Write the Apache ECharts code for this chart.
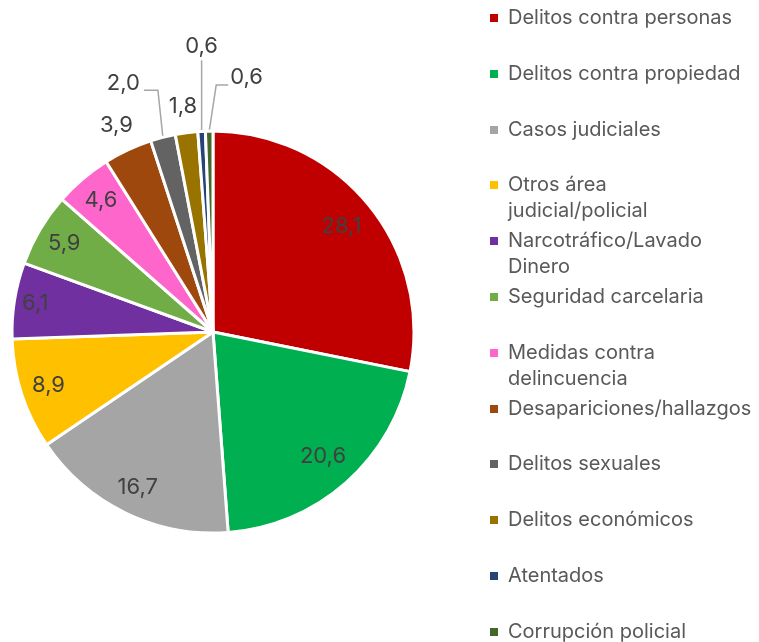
<!DOCTYPE html>
<html><head><meta charset="utf-8">
<script src="https://cdn.jsdelivr.net/npm/echarts@6/dist/echarts.min.js"></script>
<style>html,body{margin:0;padding:0;background:#fff}#c{width:759px;height:642px}</style>
</head><body><div id="c"></div>
<script>
const categories = ['Delitos contra personas','Delitos contra propiedad','Casos judiciales','Otros área judicial/policial','Narcotráfico/Lavado Dinero','Seguridad carcelaria','Medidas contra delincuencia','Desapariciones/hallazgos','Delitos sexuales','Delitos económicos','Atentados','Corrupción policial'];
const legendLabels = ['Delitos contra personas','Delitos contra propiedad','Casos judiciales','Otros área\njudicial/policial','Narcotráfico/Lavado\nDinero','Seguridad carcelaria','Medidas contra\ndelincuencia','Desapariciones/hallazgos','Delitos sexuales','Delitos económicos','Atentados','Corrupción policial'];
const values = [28.1, 20.6, 16.7, 8.9, 6.1, 5.9, 4.6, 3.9, 2.0, 1.8, 0.6, 0.6];
const colors = ['#C00000','#00B050','#A5A5A5','#FFC000','#7030A0','#70AD47','#FF66CC','#9E480E','#636363','#997300','#264478','#43682B'];
const leaderLabelIdx = [8,10,11];

const FONT = 'Inter';
const fmt = p => p.value.toFixed(1).replace('.', ',');
const labelText = {fontFamily: FONT, fontSize: 22, color: '#404040'};
const chart = echarts.init(document.getElementById('c'));

const legends = categories.map((name, i) => {
  const two = legendLabels[i].indexOf('\n') >= 0;
  const yc = 18 + 55.8 * i;
  return {
    orient: 'vertical', left: 490, top: Math.round(yc - 13), padding: 0,
    data: [{name: name, icon: two ? 'path://M0,0h8v8h-8z M0,34L0,34' : 'rect'}],
    itemWidth: 8, itemHeight: two ? 34 : 8,
    itemStyle: {borderWidth: 0},
    formatter: () => legendLabels[i], selectedMode: false,
    textStyle: {fontFamily: FONT, fontSize: 20, color: '#595959', lineHeight: 26, padding: [0, 0, 0, 5]}
  };
});

const transparent = {color: 'rgba(0,0,0,0)', borderWidth: 0};
// label rings: inner label sits at the middle of each transparent ring
const rings = [
  {radius: [126, 200], idx: [0, 1]},
  {radius: [140, 200], idx: [2, 3, 5, 6]},
  {radius: [154, 200], idx: [4]},
  {radius: [200, 250], idx: [7, 9]}
];

const series = [{
  type: 'pie', center: [213, 332], radius: 201, startAngle: 90, clockwise: true,
  silent: true, avoidLabelOverlap: false,
  itemStyle: {borderColor: '#fff', borderWidth: 3},
  label: Object.assign({show: false, position: 'outside', formatter: fmt}, labelText),
  labelLine: {show: false, length: 40, length2: 10, lineStyle: {color: '#A6A6A6', width: 1.5}},
  data: categories.map((n, i) => ({
    name: n, value: values[i], itemStyle: {color: colors[i]},
    label: {show: leaderLabelIdx.includes(i)},
    labelLine: {show: leaderLabelIdx.includes(i)}
  })),
  labelLayout: function (p) {
    const pts = p.labelLinePoints;
    if (!pts) return {};
    const a = pts[0];
    if (p.dataIndex === 8) {
      const b = [a[0] - 5, a[1] - 47], c = [b[0] - 14, b[1]];
      return {x: c[0] - 4, y: c[1] - 7, align: 'right', verticalAlign: 'middle', labelLinePoints: [a, b, c]};
    }
    if (p.dataIndex === 10) {
      const b = [a[0], a[1] - 71];
      return {x: a[0], y: b[1] - 3, align: 'center', verticalAlign: 'bottom', labelLinePoints: [a, b, b]};
    }
    if (p.dataIndex === 11) {
      const b = [a[0] + 7, a[1] - 46], c = [b[0] + 12, b[1]];
      return {x: c[0] + 2, y: c[1] - 8, align: 'left', verticalAlign: 'middle', labelLinePoints: [a, b, c]};
    }
    return {};
  }
}];
rings.forEach(ring => series.push({
  type: 'pie', center: [213, 332], radius: ring.radius, startAngle: 90, clockwise: true,
  silent: true, itemStyle: transparent, labelLine: {show: false},
  label: Object.assign({position: 'inside', formatter: fmt}, labelText),
  data: values.map((v, i) => ({value: v, label: {show: ring.idx.includes(i)}}))
}));

chart.setOption({animation: false, legend: legends, series: series});
</script></body></html>
